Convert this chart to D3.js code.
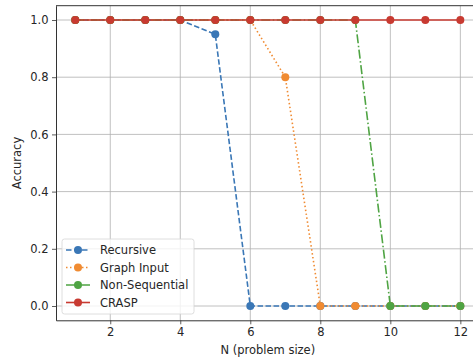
<!DOCTYPE html>
<html>
<head>
<meta charset="utf-8">
<script src="https://cdn.jsdelivr.net/npm/d3@7"></script>
<style>
  body { margin: 0; background: #fff; }
  text { font-family: "DejaVu Sans", sans-serif; fill: #262626; }
</style>
</head>
<body>
<script>
// chart data
const nValues = [1, 2, 3, 4, 5, 6, 7, 8, 9, 10, 11, 12];
const recursive = [1, 1, 1, 1, 0.95, 0, 0, 0, 0, 0, 0, 0];
const graphInput = [1, 1, 1, 1, 1, 1, 0.8, 0, 0, 0, 0, 0];
const nonSequential = [1, 1, 1, 1, 1, 1, 1, 1, 1, 0, 0, 0];
const crasp = [1, 1, 1, 1, 1, 1, 1, 1, 1, 1, 1, 1];
const xTicks = [2, 4, 6, 8, 10, 12];
const yTicks = [0, 0.2, 0.4, 0.6, 0.8, 1.0];

const series = [
  { name: "Recursive", values: recursive, color: "#3a77b6", dash: "5.5,2.5" },
  { name: "Graph Input", values: graphInput, color: "#f08b32", dash: "1.5,2.5" },
  { name: "Non-Sequential", values: nonSequential, color: "#4fa443", dash: "9,2.5,1.5,2.5" },
  { name: "CRASP", values: crasp, color: "#c83a31", dash: null }
];

const width = 473, height = 360;
const margin = { top: 5.7, right: -6.6, bottom: 39.7, left: 56 };
const fontSize = "11.5px";

const svg = d3.select("body").append("svg")
  .attr("width", width)
  .attr("height", height);

const x = d3.scaleLinear()
  .domain([0.45, 12.55])
  .range([margin.left, width - margin.right]);

const y = d3.scaleLinear()
  .domain([-0.05, 1.05])
  .range([height - margin.bottom, margin.top]);

// grid
svg.append("g")
  .selectAll("line")
  .data(xTicks)
  .join("line")
  .attr("x1", d => x(d)).attr("x2", d => x(d))
  .attr("y1", y(-0.05)).attr("y2", y(1.05))
  .attr("stroke", "#b0b0b0")
  .attr("stroke-width", 0.8);

svg.append("g")
  .selectAll("line")
  .data(yTicks)
  .join("line")
  .attr("x1", x(0.45)).attr("x2", x(12.55))
  .attr("y1", d => y(d)).attr("y2", d => y(d))
  .attr("stroke", "#b0b0b0")
  .attr("stroke-width", 0.8);

// axes
const xAxis = svg.append("g")
  .attr("transform", `translate(0,${y(-0.05)})`)
  .call(d3.axisBottom(x).tickValues(xTicks).tickSize(4).tickSizeOuter(0)
    .tickPadding(3.5).tickFormat(d3.format("d")));

const yAxis = svg.append("g")
  .attr("transform", `translate(${x(0.45)},0)`)
  .call(d3.axisLeft(y).tickValues(yTicks).tickSize(4).tickSizeOuter(0)
    .tickPadding(3.5).tickFormat(d3.format(".1f")));

[xAxis, yAxis].forEach(a => {
  a.selectAll("text").style("font-size", fontSize).style("font-family", "DejaVu Sans").attr("fill", "#262626");
  a.selectAll("line").attr("stroke", "#333").attr("stroke-width", 0.8);
  a.select(".domain").attr("stroke", "#333").attr("stroke-width", 1);
});

// top spine
svg.append("line")
  .attr("x1", x(0.45)).attr("x2", x(12.55))
  .attr("y1", y(1.05)).attr("y2", y(1.05))
  .attr("stroke", "#333").attr("stroke-width", 1);

// labels
svg.append("text")
  .attr("x", (x(0.45) + x(12.55)) / 2)
  .attr("y", 354)
  .attr("text-anchor", "middle")
  .style("font-size", fontSize)
  .text("N (problem size)");

svg.append("text")
  .attr("transform", `translate(21,${(y(-0.05) + y(1.05)) / 2}) rotate(-90)`)
  .attr("text-anchor", "middle")
  .style("font-size", fontSize)
  .text("Accuracy");

// lines and markers
const line = d3.line()
  .x((d, i) => x(nValues[i]))
  .y(d => y(d));

series.forEach(s => {
  svg.append("path")
    .datum(s.values)
    .attr("d", line)
    .attr("fill", "none")
    .attr("stroke", s.color)
    .attr("stroke-width", 1.6)
    .attr("stroke-dasharray", s.dash);

  svg.append("g")
    .selectAll("circle")
    .data(s.values)
    .join("circle")
    .attr("cx", (d, i) => x(nValues[i]))
    .attr("cy", d => y(d))
    .attr("r", 4)
    .attr("fill", s.color);
});

// legend
const legend = svg.append("g").attr("transform", "translate(62,239)");
legend.append("rect")
  .attr("width", 132).attr("height", 75)
  .attr("rx", 2.5)
  .attr("fill", "#fff").attr("fill-opacity", 0.8)
  .attr("stroke", "#d5d5d5").attr("stroke-width", 0.8);

series.forEach((s, i) => {
  const g = legend.append("g").attr("transform", `translate(0,${11 + i * 17.5})`);
  g.append("line")
    .attr("x1", 4).attr("x2", 28)
    .attr("stroke", s.color)
    .attr("stroke-width", 1.6)
    .attr("stroke-dasharray", s.dash);
  g.append("circle").attr("cx", 16).attr("r", 4).attr("fill", s.color);
  g.append("text")
    .attr("x", 38).attr("y", 0)
    .attr("dy", "0.35em")
    .style("font-size", fontSize)
    .text(s.name);
});
</script>
</body>
</html>
